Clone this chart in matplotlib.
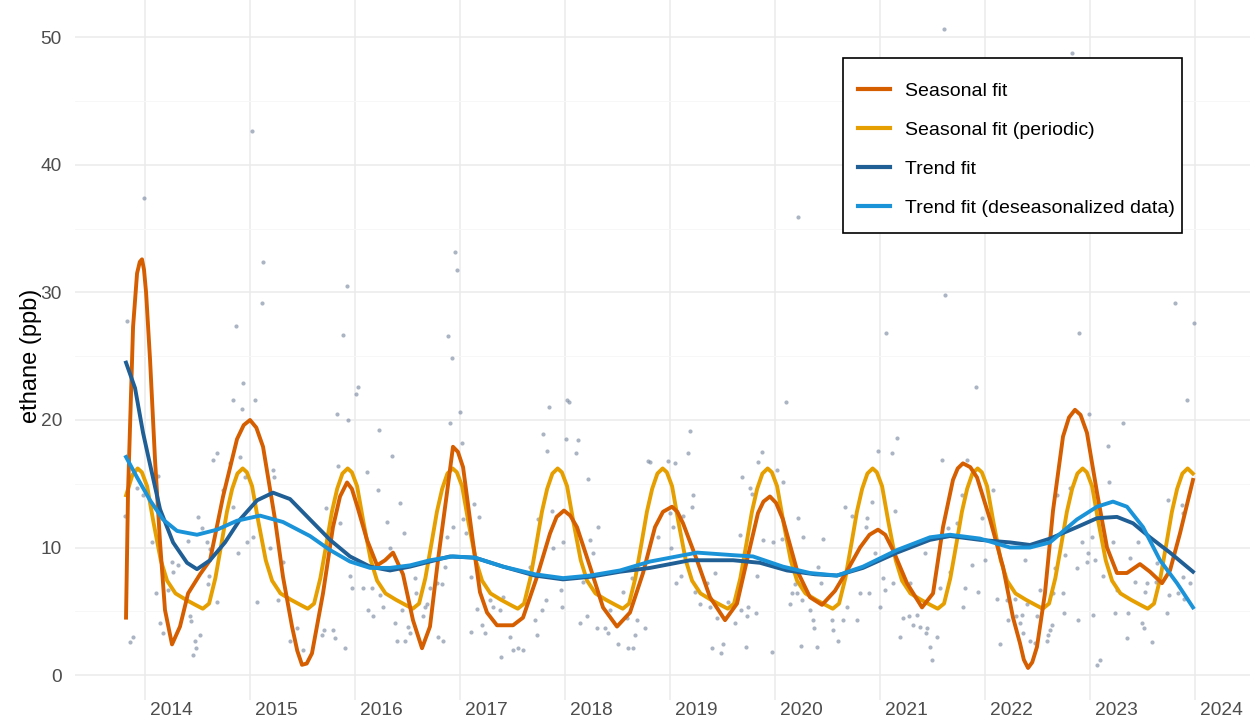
import numpy as np
import matplotlib
matplotlib.use("Agg")
import matplotlib.pyplot as plt
from matplotlib.lines import Line2D
from matplotlib.patches import Rectangle

plt.rcParams['font.family'] = ['Liberation Sans', 'DejaVu Sans']

# ---- data (decimal year, ppb) ----
seasonal_t = [2013.819, 2013.838, 2013.886, 2013.924, 2013.950, 2013.971, 2013.990, 2014.010, 2014.048, 2014.095,
              2014.143, 2014.190, 2014.257, 2014.333, 2014.410, 2014.524, 2014.619, 2014.743, 2014.876, 2014.940,
              2015.000, 2015.060, 2015.124, 2015.238, 2015.314, 2015.400, 2015.450, 2015.495, 2015.540, 2015.590,
              2015.695, 2015.790, 2015.857, 2015.924, 2015.970, 2016.019, 2016.114, 2016.210, 2016.286, 2016.362,
              2016.457, 2016.552, 2016.638, 2016.714, 2016.790, 2016.876, 2016.933, 2016.980, 2017.029, 2017.124,
              2017.190, 2017.257, 2017.352, 2017.505, 2017.600, 2017.733, 2017.857, 2017.920, 2017.990, 2018.050,
              2018.114, 2018.238, 2018.362, 2018.495, 2018.619, 2018.743, 2018.857, 2018.933, 2019.019, 2019.070,
              2019.124, 2019.257, 2019.381, 2019.524, 2019.638, 2019.733, 2019.838, 2019.890, 2019.952, 2020.010,
              2020.076, 2020.210, 2020.333, 2020.448, 2020.571, 2020.695, 2020.810, 2020.900, 2020.981, 2021.050,
              2021.124, 2021.257, 2021.400, 2021.505, 2021.600, 2021.695, 2021.740, 2021.790, 2021.860, 2021.924,
              2022.048, 2022.171, 2022.267, 2022.333, 2022.370, 2022.410, 2022.450, 2022.495, 2022.571, 2022.648,
              2022.743, 2022.800, 2022.857, 2022.910, 2022.971, 2023.067, 2023.162, 2023.257, 2023.352, 2023.476,
              2023.571, 2023.686, 2023.762, 2023.857, 2023.981]
seasonal_v = [4.5, 14.3, 27.3, 31.5, 32.4, 32.6, 31.8, 30.0, 24.7, 16.9,
              10.4, 5.1, 2.4, 3.8, 6.4, 7.9, 9.0, 14.0, 18.5, 19.6,
              20.0, 19.4, 17.9, 12.2, 7.7, 3.8, 1.9, 0.8, 0.9, 1.7,
              6.4, 11.6, 14.0, 15.1, 14.6, 13.3, 10.6, 8.6, 9.0, 9.6,
              7.9, 4.3, 2.1, 3.8, 9.0, 14.3, 17.9, 17.5, 16.3, 10.4,
              6.5, 4.9, 3.9, 3.9, 4.5, 7.7, 11.1, 12.4, 12.9, 12.5,
              11.6, 8.5, 5.3, 3.8, 4.9, 8.0, 11.6, 12.8, 13.2, 12.8,
              11.9, 9.0, 6.1, 4.3, 5.6, 9.0, 12.7, 13.6, 14.0, 13.5,
              12.2, 8.2, 6.1, 5.5, 6.6, 8.3, 10.0, 11.0, 11.4, 11.0,
              9.8, 7.2, 5.3, 6.4, 11.6, 15.3, 16.2, 16.6, 16.3, 15.5,
              12.2, 8.5, 4.5, 2.5, 1.2, 0.55, 1.0, 2.2, 6.4, 12.9,
              18.7, 20.2, 20.8, 20.4, 19.0, 14.3, 10.0, 8.0, 8.0, 8.7,
              8.1, 7.2, 8.2, 11.1, 15.3]

periodic_t = [2013.82, 2013.88,
              2013.93, 2013.97, 2014.02, 2014.08, 2014.15, 2014.21, 2014.29, 2014.39, 2014.48, 2014.55, 2014.61, 2014.67, 2014.73, 2014.78, 2014.83, 2014.88,
              2014.93, 2014.97, 2015.02, 2015.08, 2015.15, 2015.21, 2015.29, 2015.39, 2015.48, 2015.55, 2015.61, 2015.67, 2015.73, 2015.78, 2015.83, 2015.88,
              2015.93, 2015.97, 2016.02, 2016.08, 2016.15, 2016.21, 2016.29, 2016.39, 2016.48, 2016.55, 2016.61, 2016.67, 2016.73, 2016.78, 2016.83, 2016.88,
              2016.93, 2016.97, 2017.02, 2017.08, 2017.15, 2017.21, 2017.29, 2017.39, 2017.48, 2017.55, 2017.61, 2017.67, 2017.73, 2017.78, 2017.83, 2017.88,
              2017.93, 2017.97, 2018.02, 2018.08, 2018.15, 2018.21, 2018.29, 2018.39, 2018.48, 2018.55, 2018.61, 2018.67, 2018.73, 2018.78, 2018.83, 2018.88,
              2018.93, 2018.97, 2019.02, 2019.08, 2019.15, 2019.21, 2019.29, 2019.39, 2019.48, 2019.55, 2019.61, 2019.67, 2019.73, 2019.78, 2019.83, 2019.88,
              2019.93, 2019.97, 2020.02, 2020.08, 2020.15, 2020.21, 2020.29, 2020.39, 2020.48, 2020.55, 2020.61, 2020.67, 2020.73, 2020.78, 2020.83, 2020.88,
              2020.93, 2020.97, 2021.02, 2021.08, 2021.15, 2021.21, 2021.29, 2021.39, 2021.48, 2021.55, 2021.61, 2021.67, 2021.73, 2021.78, 2021.83, 2021.88,
              2021.93, 2021.97, 2022.02, 2022.08, 2022.15, 2022.21, 2022.29, 2022.39, 2022.48, 2022.55, 2022.61, 2022.67, 2022.73, 2022.78, 2022.83, 2022.88,
              2022.93, 2022.97, 2023.02, 2023.08, 2023.15, 2023.21, 2023.29, 2023.39, 2023.48, 2023.55, 2023.61, 2023.67, 2023.73, 2023.78, 2023.83, 2023.88,
              2023.93, 2023.98]
periodic_v = [14.1, 15.7,
              16.2, 15.9, 14.8, 12.0, 9.0, 7.4, 6.4, 5.9, 5.5, 5.2, 5.6, 7.6, 10.4, 12.8, 14.6, 15.8,
              16.2, 15.9, 14.8, 12.0, 9.0, 7.4, 6.4, 5.9, 5.5, 5.2, 5.6, 7.6, 10.4, 12.8, 14.6, 15.8,
              16.2, 15.9, 14.8, 12.0, 9.0, 7.4, 6.4, 5.9, 5.5, 5.2, 5.6, 7.6, 10.4, 12.8, 14.6, 15.8,
              16.2, 15.9, 14.8, 12.0, 9.0, 7.4, 6.4, 5.9, 5.5, 5.2, 5.6, 7.6, 10.4, 12.8, 14.6, 15.8,
              16.2, 15.9, 14.8, 12.0, 9.0, 7.4, 6.4, 5.9, 5.5, 5.2, 5.6, 7.6, 10.4, 12.8, 14.6, 15.8,
              16.2, 15.9, 14.8, 12.0, 9.0, 7.4, 6.4, 5.9, 5.5, 5.2, 5.6, 7.6, 10.4, 12.8, 14.6, 15.8,
              16.2, 15.9, 14.8, 12.0, 9.0, 7.4, 6.4, 5.9, 5.5, 5.2, 5.6, 7.6, 10.4, 12.8, 14.6, 15.8,
              16.2, 15.9, 14.8, 12.0, 9.0, 7.4, 6.4, 5.9, 5.5, 5.2, 5.6, 7.6, 10.4, 12.8, 14.6, 15.8,
              16.2, 15.9, 14.8, 12.0, 9.0, 7.4, 6.4, 5.9, 5.5, 5.2, 5.6, 7.6, 10.4, 12.8, 14.6, 15.8,
              16.2, 15.9, 14.8, 12.0, 9.0, 7.4, 6.4, 5.9, 5.5, 5.2, 5.6, 7.6, 10.4, 12.8, 14.6, 15.8,
              16.2, 15.8]

trend_t = [2013.819, 2013.905, 2013.981, 2014.048, 2014.143, 2014.267, 2014.400, 2014.495, 2014.619, 2014.762,
           2014.905, 2015.067, 2015.219, 2015.381, 2015.571, 2015.762, 2015.952, 2016.143, 2016.333, 2016.524,
           2016.714, 2016.905, 2017.143, 2017.410, 2017.714, 2017.981, 2018.238, 2018.524, 2018.810, 2019.190,
           2019.600, 2019.857, 2020.114, 2020.381, 2020.590, 2020.838, 2021.162, 2021.476, 2021.667, 2021.952,
           2022.238, 2022.429, 2022.619, 2022.876, 2023.067, 2023.257, 2023.410, 2023.571, 2023.762, 2023.981]
trend_v = [24.5, 22.5, 19.0, 16.5, 13.0, 10.4, 8.8, 8.3, 9.0, 10.4,
           12.2, 13.7, 14.3, 13.8, 12.2, 10.6, 9.3, 8.5, 8.2, 8.5,
           8.9, 9.3, 9.2, 8.5, 7.8, 7.5, 7.7, 8.1, 8.4, 9.0,
           9.0, 8.8, 8.2, 7.9, 7.8, 8.4, 9.6, 10.6, 10.9, 10.6,
           10.4, 10.2, 10.7, 11.6, 12.3, 12.4, 11.9, 10.8, 9.6, 8.1]

deseas_t = [2013.819, 2013.924, 2014.048, 2014.171, 2014.305, 2014.495, 2014.686, 2014.876, 2015.095, 2015.314,
            2015.571, 2015.762, 2015.952, 2016.143, 2016.333, 2016.524, 2016.714, 2016.933, 2017.143, 2017.410,
            2017.714, 2017.981, 2018.238, 2018.524, 2018.810, 2019.257, 2019.600, 2019.790, 2020.076, 2020.333,
            2020.590, 2020.838, 2021.162, 2021.476, 2021.667, 2021.952, 2022.238, 2022.429, 2022.619, 2022.876,
            2023.067, 2023.219, 2023.352, 2023.505, 2023.667, 2023.829, 2023.981]
deseas_v = [17.1, 15.5, 13.7, 12.2, 11.3, 11.0, 11.4, 12.1, 12.5, 12.0,
            10.9, 9.8, 8.9, 8.4, 8.4, 8.6, 9.0, 9.3, 9.2, 8.5,
            7.9, 7.6, 7.8, 8.2, 8.9, 9.6, 9.4, 9.3, 8.5, 8.0,
            7.8, 8.5, 9.8, 10.8, 11.0, 10.7, 10.0, 10.0, 10.4, 12.2,
            13.2, 13.6, 13.2, 11.6, 9.0, 7.2, 5.3]

# individual observations (year, ppb)
obs = [
    (2015.12, 32.4), (2015.11, 29.2), (2013.83, 27.8), (2014.87, 27.4), (2014.93, 22.9), (2014.84, 21.6),
    (2015.05, 21.6), (2014.92, 20.9), (2014.69, 17.4), (2014.65, 16.9), (2014.81, 16.6), (2014.90, 17.1),
    (2014.12, 15.6), (2014.95, 15.5), (2015.22, 16.1), (2015.23, 15.5), (2013.92, 14.7), (2013.98, 14.1),
    (2014.74, 14.5), (2014.84, 13.2), (2013.81, 12.5), (2014.50, 12.4), (2014.54, 11.5), (2014.07, 10.4),
    (2014.41, 10.5), (2014.59, 10.4), (2014.62, 9.9), (2014.89, 9.6), (2014.97, 10.4), (2015.03, 10.8),
    (2015.19, 10.0), (2015.31, 8.9), (2014.26, 8.9), (2014.31, 8.6), (2014.27, 8.1), (2014.61, 7.8),
    (2014.10, 6.4), (2014.22, 6.7), (2014.60, 7.1), (2014.69, 5.7), (2015.07, 5.7), (2015.27, 5.9),
    (2014.14, 4.1), (2014.43, 4.6), (2014.44, 4.2), (2014.17, 3.3), (2014.52, 3.1), (2014.48, 2.7),
    (2013.89, 3.0), (2013.86, 2.6), (2014.49, 2.1), (2014.46, 1.6), (2015.38, 2.7), (2015.02, 42.7),
    (2013.99, 37.4),
    (2016.97, 31.8), (2016.95, 33.2), (2015.92, 30.5), (2015.89, 26.7), (2016.89, 26.6), (2016.92, 24.9),
    (2016.03, 22.6), (2016.01, 22.0), (2015.83, 20.5), (2015.93, 20.0), (2017.00, 20.6), (2016.90, 19.8),
    (2016.23, 19.2), (2017.02, 18.2), (2016.35, 17.2), (2015.84, 16.4), (2016.11, 15.9), (2016.22, 14.5),
    (2016.43, 13.5), (2015.72, 13.1), (2015.86, 11.9), (2016.30, 12.0), (2016.47, 11.1), (2016.88, 10.8),
    (2016.93, 11.6), (2017.03, 12.2), (2017.06, 11.1), (2016.33, 10.0), (2015.95, 7.8), (2015.97, 6.8),
    (2016.08, 6.8), (2016.16, 6.8), (2016.24, 6.3), (2016.57, 7.6), (2016.71, 6.8), (2016.78, 7.2),
    (2016.83, 7.1), (2016.86, 8.5), (2017.10, 7.7), (2016.58, 6.4), (2016.69, 5.6), (2016.27, 5.3),
    (2016.12, 5.1), (2016.17, 4.6), (2016.45, 5.1), (2016.65, 4.6), (2016.67, 5.3), (2015.45, 3.7),
    (2015.70, 3.5), (2015.69, 3.1), (2015.79, 3.5), (2015.81, 2.9), (2016.38, 4.1), (2016.50, 3.8),
    (2016.52, 3.3), (2016.40, 2.7), (2016.48, 2.7), (2016.79, 3.0), (2016.84, 2.7), (2017.10, 3.4),
    (2015.90, 2.1), (2015.50, 2.0),
    (2018.02, 21.6), (2018.04, 21.4), (2017.85, 21.0), (2017.79, 18.9), (2018.01, 18.5), (2018.12, 18.4),
    (2017.83, 17.6), (2018.10, 17.4), (2018.79, 16.8), (2018.22, 15.4), (2017.13, 13.4), (2017.18, 12.4),
    (2017.88, 12.9), (2017.74, 12.2), (2018.31, 11.6), (2017.98, 10.4), (2018.24, 10.6), (2018.27, 9.6),
    (2017.89, 10.0), (2017.67, 8.5), (2018.17, 7.3), (2017.96, 6.7), (2018.55, 6.5), (2018.64, 7.6),
    (2017.82, 5.9), (2017.78, 5.1), (2017.29, 5.9), (2017.41, 6.1), (2017.31, 5.3), (2017.38, 5.1),
    (2017.16, 5.2), (2017.97, 5.3), (2018.43, 5.1), (2018.21, 4.6), (2017.71, 4.3), (2018.14, 4.1),
    (2018.59, 4.5), (2018.69, 4.3), (2017.21, 3.9), (2017.24, 3.3), (2018.30, 3.7), (2018.38, 3.7),
    (2018.41, 3.3), (2018.76, 3.7), (2017.73, 3.1), (2017.48, 3.0), (2017.55, 2.1), (2017.60, 2.0),
    (2017.50, 2.0), (2017.39, 1.4), (2018.50, 2.4), (2018.60, 2.1), (2018.65, 2.1), (2018.67, 3.1),
    (2020.10, 21.4), (2019.19, 19.1), (2019.17, 17.4), (2018.98, 16.8), (2019.05, 16.6), (2018.81, 16.7),
    (2019.88, 17.5), (2019.84, 16.7), (2020.02, 16.1), (2019.69, 15.5), (2019.22, 14.1), (2019.76, 14.7),
    (2019.78, 14.2), (2020.08, 15.1), (2019.21, 13.2), (2019.00, 12.7), (2019.12, 12.5), (2020.22, 12.3),
    (2019.03, 11.6), (2019.01, 10.0), (2019.67, 11.0), (2019.89, 10.6), (2019.98, 10.4), (2020.07, 10.7),
    (2020.27, 10.8), (2020.46, 10.7), (2018.89, 10.8), (2020.41, 8.5), (2019.10, 7.8), (2019.06, 7.2),
    (2019.43, 8.0), (2019.83, 7.8), (2020.44, 7.2), (2019.24, 6.5), (2019.35, 7.2), (2020.19, 7.1),
    (2020.16, 6.4), (2020.21, 6.4), (2019.55, 5.7), (2019.29, 5.6), (2019.38, 5.3), (2020.14, 5.6),
    (2020.26, 5.9), (2019.82, 4.9), (2019.68, 5.1), (2019.74, 5.3), (2020.33, 5.1), (2020.36, 4.3),
    (2020.54, 4.3), (2019.45, 4.5), (2019.52, 4.5), (2019.73, 4.6), (2019.62, 4.1), (2020.37, 3.7),
    (2019.40, 2.1), (2019.50, 2.4), (2019.49, 1.7), (2019.72, 2.2), (2019.97, 1.8), (2020.25, 2.3),
    (2020.40, 2.2), (2020.55, 3.5), (2020.22, 35.9),
    (2021.62, 29.8), (2021.06, 26.8), (2021.91, 22.6), (2021.16, 18.6), (2020.98, 17.6), (2021.11, 17.4),
    (2021.59, 16.9), (2021.83, 16.9), (2022.08, 14.5), (2020.67, 13.2), (2020.73, 12.5), (2020.92, 13.6),
    (2021.14, 12.9), (2020.88, 12.3), (2021.78, 14.1), (2021.97, 12.3), (2021.73, 11.9), (2020.87, 11.6),
    (2020.95, 9.6), (2021.43, 9.6), (2021.65, 11.5), (2021.67, 8.1), (2021.88, 8.6), (2022.00, 9.0),
    (2021.03, 7.6), (2021.12, 7.2), (2021.29, 7.2), (2020.81, 6.4), (2020.90, 6.4), (2021.05, 6.7),
    (2021.57, 6.8), (2021.81, 6.8), (2021.93, 6.5), (2022.11, 6.0), (2022.21, 5.9), (2020.69, 5.3),
    (2021.00, 5.3), (2021.79, 5.3), (2020.65, 4.3), (2020.78, 4.3), (2021.22, 4.5), (2021.28, 4.6),
    (2021.35, 4.7), (2021.31, 3.9), (2021.38, 3.8), (2021.45, 3.7), (2021.19, 3.0), (2021.54, 3.0),
    (2021.44, 3.3), (2020.60, 2.7), (2021.48, 2.2), (2021.50, 1.2), (2022.14, 2.4), (2022.22, 4.3),
    (2021.61, 50.7),
    (2023.81, 29.2), (2023.99, 27.6), (2022.90, 26.8), (2023.92, 21.6), (2022.99, 20.5), (2023.31, 19.8),
    (2023.17, 18.0), (2023.18, 15.1), (2022.81, 14.7), (2023.74, 13.7), (2023.88, 13.3), (2023.89, 12.7),
    (2022.69, 14.1), (2022.92, 10.4), (2023.02, 10.8), (2023.22, 10.4), (2023.46, 10.4), (2023.64, 8.8),
    (2022.38, 9.0), (2022.76, 9.4), (2022.98, 9.6), (2022.97, 8.9), (2023.05, 9.0), (2022.88, 8.4),
    (2022.67, 8.4), (2023.38, 9.2), (2023.12, 7.8), (2023.43, 7.3), (2023.54, 7.2), (2023.63, 7.3),
    (2023.89, 7.7), (2023.95, 7.2), (2022.52, 6.7), (2022.74, 6.4), (2023.26, 6.7), (2023.52, 6.5),
    (2023.75, 6.3), (2023.84, 6.4), (2023.90, 6.0), (2022.29, 6.0), (2022.40, 5.6), (2022.65, 6.4),
    (2023.24, 4.9), (2023.36, 4.9), (2023.73, 4.9), (2022.75, 4.9), (2022.35, 4.7), (2022.30, 4.6),
    (2022.50, 4.6), (2022.64, 3.9), (2022.60, 3.1), (2022.59, 2.7), (2022.62, 3.5), (2022.89, 4.3),
    (2023.03, 4.7), (2023.50, 4.1), (2023.51, 3.7), (2023.35, 2.9), (2023.59, 2.6), (2022.33, 4.1),
    (2022.36, 3.3), (2022.43, 2.7), (2022.48, 2.5), (2023.10, 1.2), (2023.07, 0.8), (2022.83, 48.8),
]

year_ticks = list(range(2014, 2025))
labels = ["Seasonal fit", "Seasonal fit (periodic)", "Trend fit", "Trend fit (deseasonalized data)"]
colors = ["#D55E00", "#E69F00", "#1F5F95", "#1A93D9"]

# ---- plot ----
fig = plt.figure(figsize=(12.55, 7.24), dpi=100)
ax = fig.add_axes([75 / 1255, 24 / 724, 1175 / 1255, 700 / 724])

obs_t = np.array([p[0] for p in obs])
obs_v = np.array([p[1] for p in obs])
ax.scatter(obs_t, obs_v, s=9, color="#7d8ca4", alpha=0.65, linewidths=0, zorder=2)

lw = 2.8
ax.plot(periodic_t, periodic_v, color=colors[1], lw=lw, zorder=3, solid_joinstyle="round")
ax.plot(seasonal_t, seasonal_v, color=colors[0], lw=lw, zorder=4, solid_joinstyle="round")
ax.plot(trend_t, trend_v, color=colors[2], lw=lw, zorder=5, solid_joinstyle="round")
ax.plot(deseas_t, deseas_v, color=colors[3], lw=lw, zorder=6, solid_joinstyle="round")

ax.set_xlim(2013.333, 2024.524)
ax.set_ylim(-1.96, 52.94)

# gridlines at year starts, year labels sit a quarter year to the right
ax.set_xticks(year_ticks, labels=[""] * len(year_ticks))
ax.set_xticks([y + 0.25 for y in year_ticks], labels=[str(y) for y in year_ticks], minor=True)
ax.set_yticks([0, 10, 20, 30, 40, 50])
ax.set_yticks([5, 15, 25, 35, 45], minor=True)
ax.grid(which="major", color="#EBEBEB", lw=1.1, zorder=0)
ax.grid(which="minor", axis="y", color="#F7F7F7", lw=0.7, zorder=0)
ax.set_axisbelow(True)

ax.tick_params(axis="both", which="both", length=0, labelsize=13.8, labelcolor="#4D4D4D")
ax.tick_params(axis="x", which="minor", pad=1.5)
ax.tick_params(axis="y", pad=9.4)
for s in ax.spines.values():
    s.set_visible(False)

ax.set_ylabel("ethane (ppb)", fontsize=17, color="black")
ax.yaxis.set_label_coords(-0.028, 0.491)

# legend box drawn by hand so its size follows the reference
ax.add_patch(Rectangle((0.6536, 0.667), 0.2885, 0.25, transform=ax.transAxes, facecolor="white",
                       edgecolor="black", lw=1.2, zorder=10))
handles = [Line2D([0], [0], color=c, lw=3) for c in colors]
leg = ax.legend(handles, labels, loc="upper left", bbox_to_anchor=(0.6664, 0.883), borderaxespad=0,
                borderpad=0, fontsize=14, handlelength=1.65, handletextpad=0.75, labelspacing=1.1,
                frameon=False)
leg.set_zorder(11)

fig.savefig("out.png", dpi=100)
